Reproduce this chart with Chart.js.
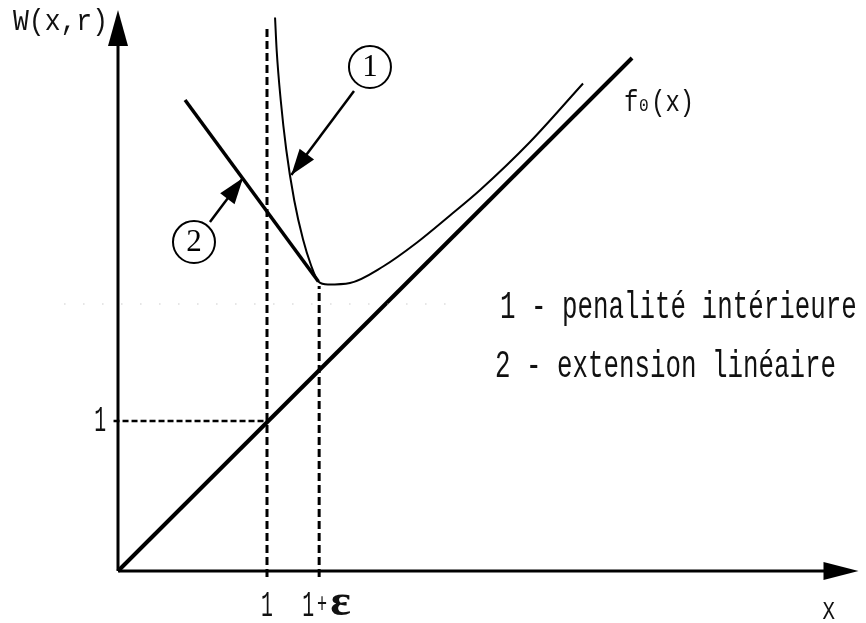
<!DOCTYPE html>
<html>
<head>
<meta charset="utf-8">
<script src="https://cdn.jsdelivr.net/npm/chart.js@4.4.1/dist/chart.umd.min.js"></script>
<style>
  html, body { margin: 0; padding: 0; background: #fff; }
</style>
</head>
<body>
<canvas id="chart" width="866" height="623"></canvas>
<script>
// values (units: x = 1 at the first dashed line)
const penX = [1.054, 1.065, 1.092, 1.129, 1.183, 1.242, 1.295, 1.345, 1.409, 1.557, 1.779, 2.007, 2.228, 2.43, 2.765, 3.121];
const penY = [3.69, 3.47, 3.14, 2.81, 2.47, 2.21, 2.04, 1.93, 1.91, 1.92, 2.03, 2.19, 2.37, 2.54, 2.86, 3.25];
const extX = [0.45, 1.345];
const extY = [3.14, 1.93];
const f0X = [0, 3.45];
const f0Y = [0, 3.42];
const eps = 0.35;
const xMax = 4.97;
const yMax = 3.74;
const xTickLabels = ['1', '1', '+'];
const yTickLabels = ['1'];
const legendLines = ['1 - penalité intérieure', '2 - extension linéaire'];

const pts = (xs, ys) => xs.map((x, i) => ({ x: x, y: ys[i] }));

// callouts: circle centre and arrow (from -> to), data coords
const callouts = [
  { label: '1', cx: 1.691, cy: 3.36, from: [1.584, 3.20], to: [1.163, 2.64] },
  { label: '2', cx: 0.51, cy: 2.193, from: [0.617, 2.327], to: [0.839, 2.62] }
];

const base = { showLine: true, pointRadius: 0, borderColor: '#000', fill: false, clip: false };

const datasets = [
  Object.assign({}, base, { data: [{ x: 0, y: 0 }, { x: xMax - 0.1, y: 0 }], borderWidth: 3 }),
  Object.assign({}, base, { data: [{ x: 0, y: 0 }, { x: 0, y: yMax - 0.1 }], borderWidth: 3 }),
  // scan dots
  Object.assign({}, base, { data: [{ x: -0.36, y: 1.78 }, { x: 2.3, y: 1.78 }], borderWidth: 1, borderColor: '#b0b0b0', borderDash: [1, 18] }),
  // f0
  Object.assign({}, base, { data: pts(f0X, f0Y), borderWidth: 4 }),
  // dashed guides
  Object.assign({}, base, { data: [{ x: 1, y: -0.04 }, { x: 1, y: 3.62 }], borderWidth: 3, borderDash: [8, 4] }),
  Object.assign({}, base, { data: [{ x: 1 + eps, y: -0.04 }, { x: 1 + eps, y: 1.9 }], borderWidth: 3, borderDash: [8, 4] }),
  Object.assign({}, base, { data: [{ x: -0.03, y: 1 }, { x: 1, y: 1 }], borderWidth: 2.5, borderDash: [6, 3] }),
  // curve 2 : extension lineaire
  Object.assign({}, base, { data: pts(extX, extY), borderWidth: 3.5 }),
  // curve 1 : penalite interieure
  Object.assign({}, base, { data: pts(penX, penY), borderWidth: 2, cubicInterpolationMode: 'monotone' })
];
callouts.forEach(c => {
  datasets.push(Object.assign({}, base, {
    data: [{ x: c.from[0], y: c.from[1] }, { x: c.to[0], y: c.to[1] }], borderWidth: 2.5
  }));
});

function arrowHead(ctx, fx, fy, tx, ty, len, half) {
  const a = Math.atan2(ty - fy, tx - fx);
  const bx = tx - len * Math.cos(a), by = ty - len * Math.sin(a);
  ctx.beginPath();
  ctx.moveTo(tx, ty);
  ctx.lineTo(bx + half * Math.sin(a), by - half * Math.cos(a));
  ctx.lineTo(bx - half * Math.sin(a), by + half * Math.cos(a));
  ctx.closePath();
  ctx.fill();
}

function text(ctx, s, x, y, font, sx, align) {
  ctx.save();
  ctx.translate(x, y);
  ctx.scale(sx, 1);
  ctx.font = font;
  ctx.textAlign = align;
  ctx.textBaseline = 'middle';
  ctx.fillText(s, 0, 0);
  ctx.restore();
}

const decor = {
  id: 'decor',
  afterDatasetsDraw(chart) {
    const ctx = chart.ctx;
    const X = v => chart.scales.x.getPixelForValue(v);
    const Y = v => chart.scales.y.getPixelForValue(v);
    ctx.save();
    ctx.fillStyle = '#000';
    ctx.strokeStyle = '#000';

    // axis arrows
    arrowHead(ctx, X(0), Y(0), X(xMax), Y(0), 35, 9);
    arrowHead(ctx, X(0), Y(0), X(0), Y(yMax), 36, 10);

    // callouts
    callouts.forEach(c => {
      arrowHead(ctx, X(c.from[0]), Y(c.from[1]), X(c.to[0]), Y(c.to[1]), 26, 9);
      ctx.lineWidth = 2;
      ctx.beginPath();
      ctx.arc(X(c.cx), Y(c.cy), 21, 0, Math.PI * 2);
      ctx.fillStyle = '#fff';
      ctx.fill();
      ctx.stroke();
      ctx.fillStyle = '#000';
      text(ctx, c.label, X(c.cx), Y(c.cy) + 1, '31px "Liberation Serif"', 1, 'center');
    });

    const mono = '"Liberation Mono", "DejaVu Sans Mono", monospace';
    ctx.fillStyle = '#111';
    text(ctx, 'W(x,r)', X(-0.067), Y(3.66), '30px ' + mono, 0.88, 'right');

    // f0(x) with small 0
    const fx = X(3.396), fy = Y(3.12);
    text(ctx, 'f', fx, fy, '30px ' + mono, 0.8, 'left');
    text(ctx, '0', fx + 15, fy + 3, '19px ' + mono, 0.85, 'left');
    text(ctx, '(x)', fx + 27, fy, '30px ' + mono, 0.8, 'left');

    text(ctx, legendLines[0], X(2.564), Y(1.753), '38px ' + mono, 0.68, 'left');
    text(ctx, legendLines[1], X(2.53), Y(1.36), '38px ' + mono, 0.68, 'left');

    // tick labels
    const tf = '36px ' + mono;
    text(ctx, yTickLabels[0], X(-0.12), Y(1), tf, 0.55, 'center');
    text(ctx, xTickLabels[0], X(1), Y(-0.235), tf, 0.55, 'center');
    text(ctx, xTickLabels[1], X(1 + eps) - 11, Y(-0.235), tf, 0.55, 'center');
    text(ctx, xTickLabels[2], X(1 + eps) + 3, Y(-0.225), '28px ' + mono, 0.6, 'center');
    text(ctx, 'ε', X(1 + eps) + 11, Y(-0.22), 'bold 44px "Liberation Serif"', 1.1, 'left');
    text(ctx, 'X', X(4.77), Y(-0.273), '26px ' + mono, 0.8, 'center');
    ctx.restore();
  }
};

new Chart(document.getElementById('chart'), {
  type: 'scatter',
  data: { datasets: datasets },
  options: {
    responsive: false,
    animation: false,
    devicePixelRatio: 1,
    layout: { padding: { left: 118, right: 3, top: 1, bottom: 52 } },
    plugins: { legend: { display: false }, tooltip: { enabled: false } },
    scales: {
      x: { type: 'linear', min: 0, max: 5, display: false },
      y: { type: 'linear', min: 0, max: 3.8, display: false }
    }
  },
  plugins: [decor]
});
</script>
</body>
</html>
